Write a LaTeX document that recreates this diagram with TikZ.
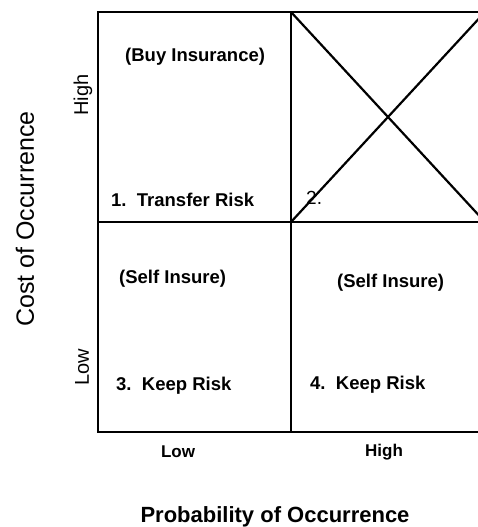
\documentclass[tikz,border=0pt]{standalone}
\usepackage{fontspec}
\setmainfont{Liberation Sans}
\begin{document}
\begin{tikzpicture}[x=1pt,y=-1pt,
    cell/.style={anchor=west,inner sep=0pt,font=\fontsize{18.5}{20}\selectfont\bfseries},
    tick/.style={inner sep=0pt,font=\fontsize{17}{19}\selectfont\bfseries},
    side/.style={inner sep=0pt,rotate=90,font=\fontsize{20}{22}\selectfont}]
    \useasboundingbox (0,0) rectangle (478,527);
    \coordinate (nw) at (98,12);
    \coordinate (n) at (291,12);
    \coordinate (ne) at (485,12);
    \coordinate (w) at (98,222);
    \coordinate (c) at (291,222);
    \coordinate (e) at (485,222);
    \coordinate (se) at (485,432);
    \coordinate (s) at (291,432);
    \begin{scope}
        \clip (0,0) rectangle (478,527);
        \draw[line width=2.6pt] (nw) rectangle (se);
        \draw[line width=2.6pt] (n) -- (s) (w) -- (e);
        \draw[line width=2.2pt] (n) -- (e) (c) -- (ne);
    \end{scope}
    % quadrants
    \node[cell] (buy) at (125,57) {(Buy Insurance)};
    \node[cell] (q1) at (111,200) {1.\ \ Transfer Risk};
    \node[cell,font=\fontsize{19}{20}\selectfont] (q2) at (306,198) {2.};
    \node[cell] (selfl) at (119,279) {(Self Insure)};
    \node[cell] (q3) at (116,386) {3.\ \ Keep Risk};
    \node[cell] (selfr) at (337,283) {(Self Insure)};
    \node[cell] (q4) at (310,385) {4.\ \ Keep Risk};
    % axes
    \foreach \x/\t/\nm in {178/Low/plow,384/High/phigh}
        \node[tick] (\nm) at (\x,452) {\t};
    \node[side] (chigh) at (83,95) {High};
    \node[side] (clow) at (82,367) {Low};
    \node[inner sep=0pt,font=\fontsize{22}{24}\selectfont\bfseries] (prob) at (275,517) {Probability of Occurrence};
    \node[side,font=\fontsize{25}{27}\selectfont] (cost) at (25,219) {Cost of Occurrence};
\end{tikzpicture}
\end{document}
